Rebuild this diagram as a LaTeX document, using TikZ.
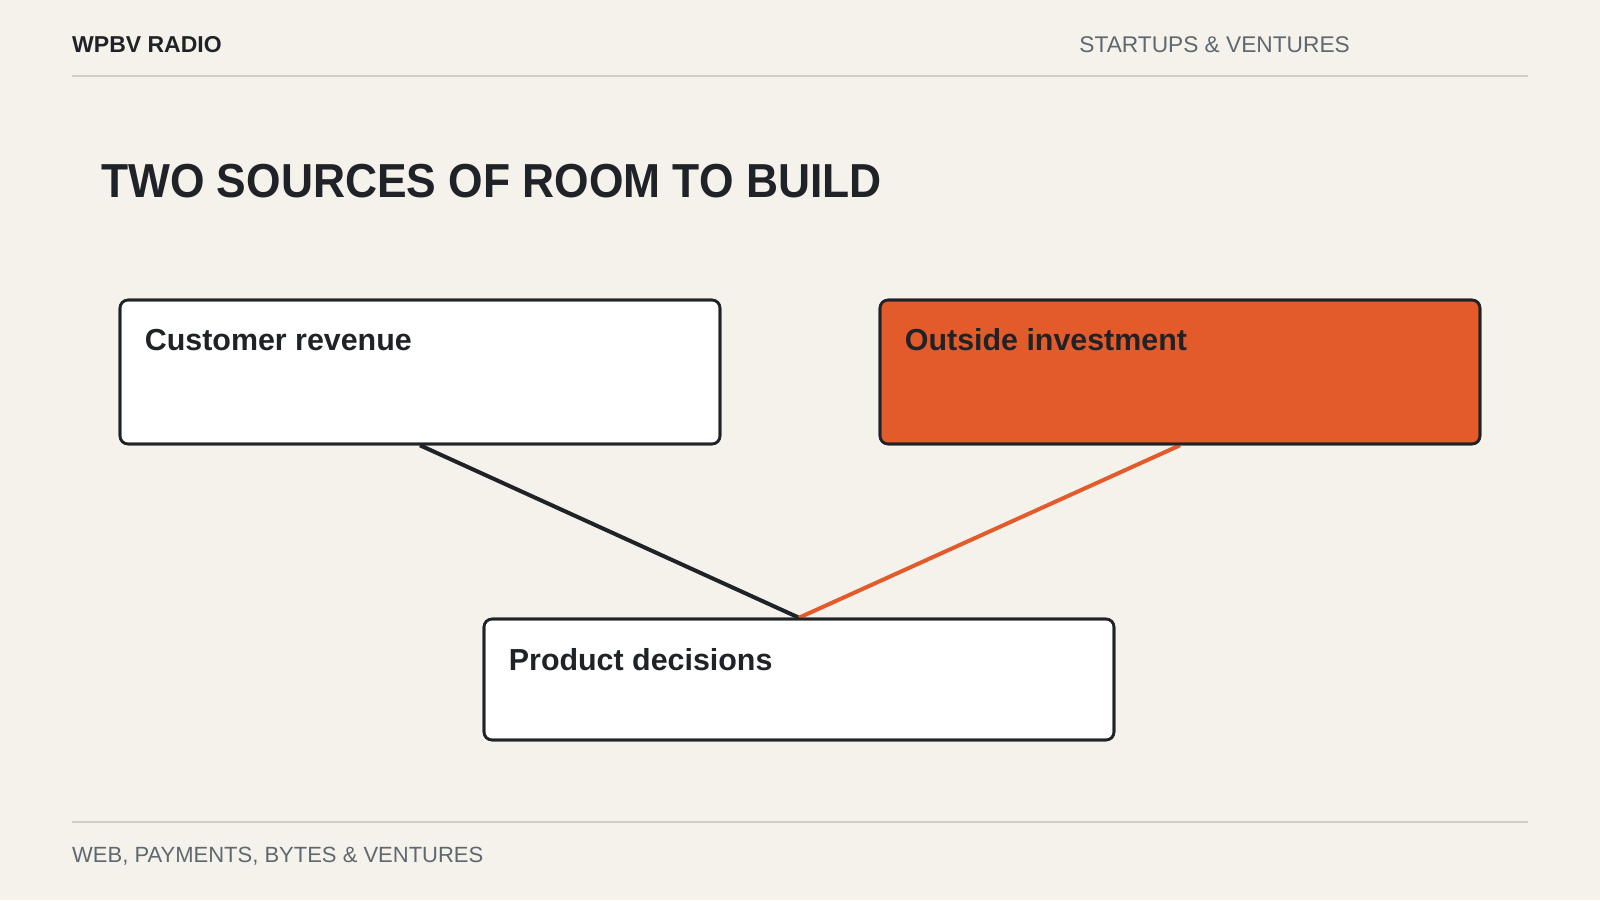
\documentclass[tikz,border=0pt]{standalone}
\usepackage{fontspec}
\setmainfont{Liberation Sans}
\newfontfamily\titlefont[FakeStretch=0.93]{Liberation Sans}
\definecolor{bgc}{HTML}{F4F2EA}
\definecolor{ink}{HTML}{1F2328}
\definecolor{accent}{HTML}{E35B2B}
\definecolor{muted}{HTML}{5F6870}
\definecolor{rulec}{HTML}{CFCDC5}
\begin{document}
\begin{tikzpicture}[x=1pt,y=-1pt,
  box/.style={draw=ink, line width=2.6pt, rounded corners=8pt, fill=white, inner sep=0pt},
  conn/.style={line width=4pt},
  boxtext/.style={anchor=base west, inner sep=0pt, text=ink, font=\fontsize{30.4}{36}\selectfont\bfseries},
  rulel/.style={draw=rulec, line width=2pt}]
\fill[bgc] (0,0) rectangle (1600,900);
\useasboundingbox (0,0) rectangle (1600,900);
% header
\node[anchor=base west, inner sep=0pt, text=ink, font=\fontsize{23}{28}\selectfont\bfseries] (brand) at (72,52) {WPBV RADIO};
\node[anchor=base east, inner sep=0pt, text=muted, font=\fontsize{22.7}{28}\selectfont] (section) at (1350,52) {STARTUPS \& VENTURES};
\coordinate (hl) at (72,76); \coordinate (hr) at (1528,76);
\draw[rulel] (hl) -- (hr);
% title
\node[anchor=base west, inner sep=0pt, text=ink, font=\titlefont\fontsize{47.7}{56}\selectfont\bfseries] (title) at (101,197) {TWO SOURCES OF ROOM TO BUILD};
% boxes positions
\node[box, minimum width=600pt, minimum height=144pt] (cr) at (420,372) {};
\node[box, fill=accent, minimum width=600pt, minimum height=144pt] (oi) at (1180,372) {};
\node[box, minimum width=630pt, minimum height=121pt] (pd) at (799,679.5) {};
% connectors
\draw[conn, draw=ink] (cr.south) -- (pd.north);
\draw[conn, draw=accent] (oi.south) -- (pd.north);
% redraw borders on top
\node[box, fill=none, minimum width=600pt, minimum height=144pt] at (420,372) {};
\node[box, fill=none, minimum width=600pt, minimum height=144pt] at (1180,372) {};
\node[box, fill=none, minimum width=630pt, minimum height=121pt] at (799,679.5) {};
% texts
\node[boxtext] (crt) at ([xshift=26pt,yshift=-52pt]cr.north west) {Customer revenue};
\node[boxtext] (oit) at ([xshift=26pt,yshift=-52pt]oi.north west) {Outside investment};
\node[boxtext] (pdt) at ([xshift=26pt,yshift=-53pt]pd.north west) {Product decisions};
% footer
\coordinate (fl) at (72,822); \coordinate (fr) at (1528,822);
\draw[rulel] (fl) -- (fr);
\node[anchor=base west, inner sep=0pt, text=muted, font=\fontsize{22}{27}\selectfont] (foot) at (72,862) {WEB, PAYMENTS, BYTES \& VENTURES};
\end{tikzpicture}
\end{document}
